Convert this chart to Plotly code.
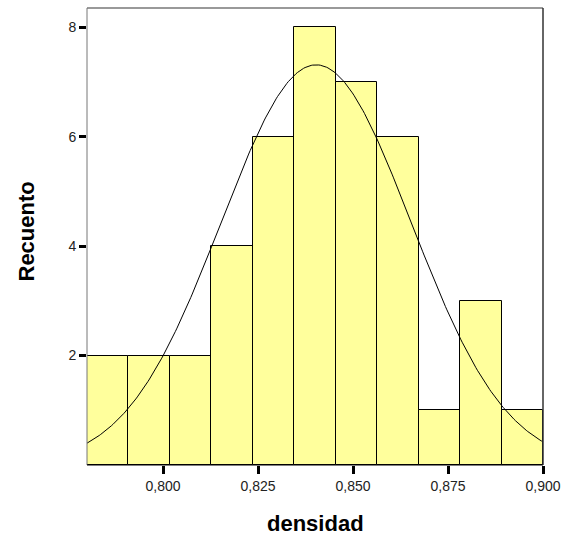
import numpy as np
import plotly.graph_objects as go

# Data
counts = [2, 2, 2, 4, 6, 8, 7, 6, 1, 3, 1]
bin_low = 0.780
bin_high = 0.900
n_obs = 42
fit_mean = 0.8403
fit_sd = 0.0250
x_tickvals = [0.800, 0.825, 0.850, 0.875, 0.900]
x_ticktext = ["0,800", "0,825", "0,850", "0,875", "0,900"]
y_tickvals = [2, 4, 6, 8]
y_ticktext = ["2", "4", "6", "8"]

nb = len(counts)
bw = (bin_high - bin_low) / nb
centers = [bin_low + bw * (i + 0.5) for i in range(nb)]

# Normal curve fitted (mean, sd) scaled to counts
xc = np.linspace(bin_low, bin_high, 300)
yc = n_obs * bw / (fit_sd * np.sqrt(2 * np.pi)) * np.exp(-0.5 * ((xc - fit_mean) / fit_sd) ** 2)

fig = go.Figure()
fig.add_trace(go.Bar(
    x=centers, y=counts, width=[bw] * nb,
    marker=dict(color="rgb(255,255,156)", line=dict(color="black", width=1)),
    showlegend=False, hoverinfo="skip"))
fig.add_trace(go.Scatter(
    x=xc, y=yc, mode="lines", line=dict(color="black", width=1),
    showlegend=False, hoverinfo="skip"))

font = "Liberation Sans, Arial, sans-serif"
fig.update_layout(
    width=563, height=536,
    margin=dict(l=87, r=20, t=8, b=71),
    plot_bgcolor="white", paper_bgcolor="white",
    bargap=0,
    font=dict(family=font, size=14, color="#222"),
    xaxis=dict(range=[bin_low, bin_high], tickvals=x_tickvals, ticktext=x_ticktext,
               ticks="outside", ticklen=8, tickwidth=3, tickcolor="black",
               showgrid=False, zeroline=False, showline=False, automargin=False,
               tickfont=dict(size=14, color="#222")),
    yaxis=dict(range=[0, 8.35], tickvals=y_tickvals, ticktext=y_ticktext,
               ticks="outside", ticklen=7, tickwidth=3, tickcolor="black",
               showgrid=False, zeroline=False, showline=False, automargin=False,
               tickfont=dict(size=14, color="#222")),
    shapes=[
        dict(type="line", xref="paper", yref="paper", x0=0, x1=1, y0=1, y1=1,
             line=dict(color="#999", width=2)),
        dict(type="line", xref="paper", yref="paper", x0=0, x1=0, y0=0, y1=1,
             line=dict(color="#777", width=1)),
        dict(type="line", xref="paper", yref="paper", x0=1, x1=1, y0=0, y1=1,
             line=dict(color="#333", width=1.5)),
        dict(type="line", xref="paper", yref="paper", x0=0, x1=1, y0=0, y1=0,
             line=dict(color="black", width=1)),
    ],
    annotations=[
        dict(text="<b>densidad</b>", xref="paper", yref="paper", x=0.5, y=0,
             yshift=-58, showarrow=False, font=dict(size=22, color="black", family=font),
             xanchor="center", yanchor="middle"),
        dict(text="<b>Recuento</b>", xref="paper", yref="paper", x=0, y=0.5,
             xshift=-61, yshift=5, textangle=-90, showarrow=False,
             font=dict(size=22, color="black", family=font),
             xanchor="center", yanchor="middle"),
    ],
)

fig.write_html("out.html", config={"displayModeBar": False},
               post_script="document.body.style.margin='0';document.body.style.overflow='hidden';")
